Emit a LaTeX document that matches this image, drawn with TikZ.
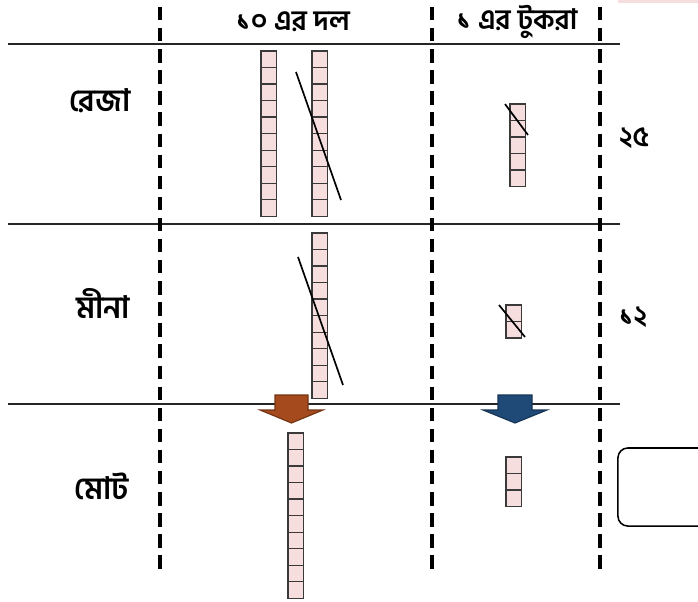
\documentclass[tikz,border=0pt]{standalone}
\usepackage{fontspec}
\newfontfamily\bn[Script=Bengali]{Hind Siliguri}
\usetikzlibrary{calc}
\definecolor{cellpink}{HTML}{F6DEDF}
\definecolor{cellline}{HTML}{3A3A3A}
\definecolor{tenbrown}{HTML}{A54A1C}
\definecolor{onesblue}{HTML}{1F4A78}
\tikzset{
  rule line/.style={black!85, line width=1.1pt},
  col sep/.style={black, line width=2.5pt, dash pattern=on 9.5pt off 5.5pt},
  rod/.style={draw=cellline, fill=cellpink, line width=0.9pt, rectangle, inner sep=0, outer sep=0, minimum width=10.9pt, anchor=north west},
  rod line/.style={cellline, line width=0.9pt},
  rod cut/.style={black, line width=1.2pt},
  head lbl/.style={font=\bn\bfseries\fontsize{20}{24}\selectfont, inner sep=1},
  row lbl/.style={font=\bn\bfseries\fontsize{22}{26}\selectfont, inner sep=1},
  num lbl/.style={font=\bn\bfseries\fontsize{20}{24}\selectfont, inner sep=1},
  move arrow/.style={line width=0.8pt},
  answer box/.style={draw, line width=1.1pt, rounded corners=7pt, minimum width=66.9pt, minimum height=55.5pt, inner sep=0}
}
% rod of unit cells: name, x, y (north west), number of cells
\newcommand{\blockrod}[4]{%
  \node[rod, minimum height=#4*11.75pt] (#1) at (#2,#3) {};
  \pgfmathtruncatemacro\lastcut{#4-1}
  \foreach \k in {1,...,\lastcut}
    \draw[rod line] ($(#1.north west)!{\k/#4}!(#1.south west)$) -- ($(#1.north east)!{\k/#4}!(#1.south east)$);
}

\begin{document}
\begin{tikzpicture}[x=0.025cm, y=-0.025cm]
\useasboundingbox (0,0) rectangle (698,601);
\fill[cellpink] (618,0) rectangle (698,2.5);

% table rules
\draw[rule line] (8,44) -- (620,44);
\draw[rule line] (8,224) -- (620,224);
\draw[rule line] (8,404) -- (620,404);
\draw[col sep] (160,7) -- (160,576);
\draw[col sep] (432,7) -- (432,576);
\draw[col sep] (600,7) -- (600,576);

% headings
\node[head lbl] (hdTens) at (293,22) {১০ এর দল};
\node[head lbl] (hdOnes) at (517,22) {১ এর টুকরা};

\node[row lbl] (lblReza) at (100,101) {রেজা};
\node[row lbl] (lblMeena) at (103,303) {মীনা};
\node[row lbl] (lblTotal) at (102,486) {মোট};

\node[num lbl] (numReza) at (634,138) {২৫};
\node[num lbl] (numMeena) at (633,317) {১২};

% Reza
\blockrod{rezaTenA}{261}{51}{10}
\blockrod{rezaTenB}{312}{51}{10}
\blockrod{rezaOnes}{510}{104}{5}
\coordinate (rezaCutA) at (296,72);
\coordinate (rezaCutB) at (341,200);
\draw[rod cut] (rezaCutA) -- (rezaCutB);
\coordinate (rezaOneCutA) at (505,104);
\coordinate (rezaOneCutB) at (528,135);
\draw[rod cut] (rezaOneCutA) -- (rezaOneCutB);

% Meena
\blockrod{meenaTen}{312}{233}{10}
\blockrod{meenaOnes}{506}{305}{2}
\coordinate (meenaCutA) at (298,257);
\coordinate (meenaCutB) at (343,385);
\draw[rod cut] (meenaCutA) -- (meenaCutB);
\coordinate (meenaOneCutA) at (499,305);
\coordinate (meenaOneCutB) at (525,337);
\draw[rod cut] (meenaOneCutA) -- (meenaOneCutB);

% total
\coordinate (tenArrow) at (291.5,395);
\filldraw[move arrow, fill=tenbrown, draw=tenbrown!70!black]
  ($(tenArrow)+(-16.5,0)$) -- ($(tenArrow)+(16.5,0)$) -- ($(tenArrow)+(16.5,15)$) -- ($(tenArrow)+(31.5,15)$)
  -- ($(tenArrow)+(0,28)$) -- ($(tenArrow)+(-31.5,15)$) -- ($(tenArrow)+(-16.5,15)$) -- cycle;
\coordinate (oneArrow) at (515,395);
\filldraw[move arrow, fill=onesblue, draw=onesblue!70!black]
  ($(oneArrow)+(-17,0)$) -- ($(oneArrow)+(17,0)$) -- ($(oneArrow)+(17,15)$) -- ($(oneArrow)+(32,15)$)
  -- ($(oneArrow)+(0,28)$) -- ($(oneArrow)+(-32,15)$) -- ($(oneArrow)+(-17,15)$) -- cycle;
\blockrod{totalTen}{288}{433}{10}
\blockrod{totalOnes}{506}{457}{3}

\node[answer box] (totalBox) at (665,487) {};
\end{tikzpicture}
\end{document}
